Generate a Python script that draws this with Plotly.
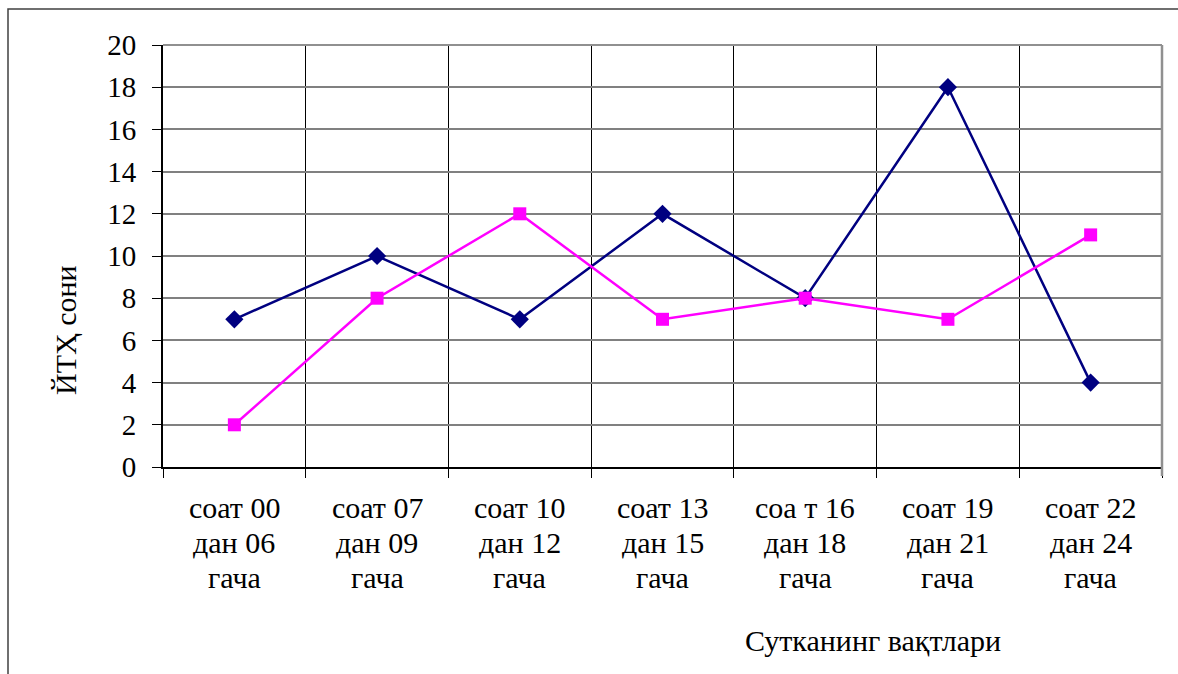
import plotly.graph_objects as go

categories = [
    "соат 00<br>дан 06<br>гача",
    "соат 07<br>дан 09<br>гача",
    "соат 10<br>дан 12<br>гача",
    "соат 13<br>дан 15<br>гача",
    "соа т 16<br>дан 18<br>гача",
    "соат 19<br>дан 21<br>гача",
    "соат 22<br>дан 24<br>гача",
]
series_blue = [7, 10, 7, 12, 8, 18, 4]
series_magenta = [2, 8, 12, 7, 8, 7, 11]
y_ticks = list(range(0, 21, 2))

FONT = "Liberation Serif"
W, H = 1178, 674
L, R, T, B = 163, 16, 45, 207
pw, ph = W - L - R, H - T - B

xpos = list(range(len(categories)))

fig = go.Figure()
fig.add_trace(go.Scatter(
    x=xpos, y=series_blue, mode="lines+markers",
    line=dict(color="#000080", width=2.5),
    marker=dict(symbol="diamond", size=14, color="#000080"),
    showlegend=False,
))
fig.add_trace(go.Scatter(
    x=xpos, y=series_magenta, mode="lines+markers",
    line=dict(color="#FF00FF", width=2.5),
    marker=dict(symbol="square", size=13, color="#FF00FF"),
    showlegend=False,
))

# category labels, one annotation per text line (line spacing ~35px)
label_annotations = []
line_centers_px = [507, 542, 577]
for i, cat in enumerate(categories):
    for j, part in enumerate(cat.split("<br>")):
        label_annotations.append(dict(
            text=part, xref="x", yref="paper", x=i,
            y=-(line_centers_px[j] - (H - B)) / ph,
            showarrow=False, xanchor="center", yanchor="middle",
            font=dict(family=FONT, size=30, color="black"),
        ))

fig.update_layout(
    width=W, height=H,
    margin=dict(l=L, r=R, t=T, b=B),
    paper_bgcolor="white", plot_bgcolor="white",
    font=dict(family=FONT, size=30, color="black"),
    xaxis=dict(
        range=[-0.5, len(categories) - 0.5],
        tickmode="array", tickvals=xpos, ticktext=[""] * len(categories),
        ticks="", showgrid=False, zeroline=False,
        showline=True, linecolor="black", linewidth=2,
        minor=dict(tick0=0.5, dtick=1, ticks="outside", ticklen=9,
                   tickcolor="black", tickwidth=1,
                   showgrid=True, gridcolor="black", gridwidth=1),
        fixedrange=True,
    ),
    yaxis=dict(
        range=[0, 20], tickmode="array", tickvals=y_ticks,
        ticks="outside", ticklen=9, tickcolor="black", tickwidth=1,
        showgrid=True, gridcolor="#808080", gridwidth=1.5,
        zeroline=True, zerolinecolor="black", zerolinewidth=2,
        showline=True, linecolor="black", linewidth=2,
        tickfont=dict(family=FONT, size=29, color="black"),
        ticklabelstandoff=10,
        fixedrange=True,
    ),
    shapes=[
        dict(type="line", xref="paper", yref="paper", x0=1, x1=1, y0=-9 / ph, y1=1,
             line=dict(color="#909090", width=2.5)),
        dict(type="line", xref="paper", yref="paper", x0=0, x1=1, y0=1, y1=1,
             line=dict(color="#909090", width=2)),
        dict(type="rect", xref="paper", yref="paper",
             x0=(8 - L) / pw, x1=(W + 5 - L) / pw,
             y0=-(B + 5) / ph, y1=1 + (T - 9) / ph,
             line=dict(color="#404040", width=1.5), layer="below"),
    ],
    annotations=[
        dict(text="ЙТҲ сони", xref="paper", yref="paper",
             x=(66 - L) / pw, y=(H - B - 330) / ph, textangle=-90,
             showarrow=False, xanchor="center", yanchor="middle",
             font=dict(family=FONT, size=30, color="black")),
        dict(text="Сутканинг вақтлари", xref="paper", yref="paper",
             x=(873 - L) / pw, y=-(640 - (H - B)) / ph,
             showarrow=False, xanchor="center", yanchor="middle",
             font=dict(family=FONT, size=30, color="black")),
    ] + label_annotations,
)

fig.write_html("out.html", config={"displayModeBar": False},
               post_script="document.body.style.margin='0';")
